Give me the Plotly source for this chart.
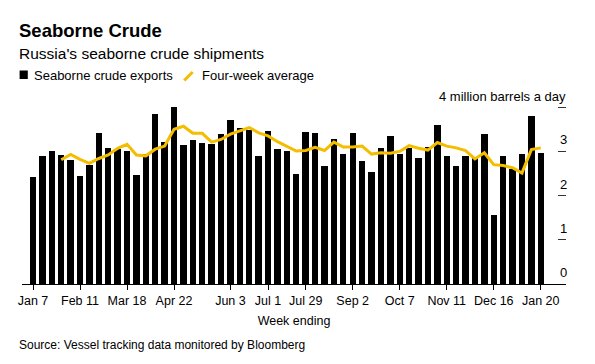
import plotly.graph_objects as go
import pandas as pd

# ---------------- data ----------------
weeks = pd.date_range("2018-01-07", periods=55, freq="7D")

exports = [2.41, 2.90, 3.02, 2.93, 2.81, 2.44, 2.70, 3.41, 3.07, 3.05,
           3.00, 2.47, 2.94, 3.84, 3.21, 4.00, 3.14, 3.25, 3.19, 3.17,
           3.39, 3.70, 3.54, 3.48, 2.90, 3.47, 3.06, 3.00, 2.50, 3.43,
           3.41, 2.66, 3.29, 2.94, 3.41, 2.78, 2.54, 3.08, 3.35, 2.94,
           3.08, 2.84, 3.11, 3.60, 2.89, 2.66, 2.89, 2.84, 3.39, 1.55,
           2.89, 2.60, 2.94, 3.80, 2.97]

four_week_avg = [None, None, None,
                 2.81, 2.93, 2.82, 2.73, 2.84, 2.92, 3.07, 3.16, 2.92, 2.90,
                 3.05, 3.12, 3.50, 3.57, 3.41, 3.41, 3.21, 3.27, 3.39, 3.47,
                 3.54, 3.42, 3.35, 3.22, 3.11, 3.01, 3.02, 3.09, 3.02, 3.21,
                 3.10, 3.10, 3.12, 2.94, 2.97, 2.96, 3.00, 3.13, 3.07, 3.03,
                 3.20, 3.12, 3.08, 3.02, 2.83, 2.97, 2.70, 2.68, 2.63, 2.51,
                 3.04, 3.08]

tick_dates = ["2018-01-07", "2018-02-11", "2018-03-18", "2018-04-22",
              "2018-06-03", "2018-07-01", "2018-07-29", "2018-09-02",
              "2018-10-07", "2018-11-11", "2018-12-16", "2019-01-20"]
tick_labels = ["Jan 7", "Feb 11", "Mar 18", "Apr 22", "Jun 3", "Jul 1",
               "Jul 29", "Sep 2", "Oct 7", "Nov 11", "Dec 16", "Jan 20"]

y_tick_vals = [0, 1, 2, 3, 4]
y_tick_labels = ["0", "1", "2", "3"]
unit_label = "4 million barrels a day"

title = "Seaborne Crude"
subtitle = "Russia's seaborne crude shipments"
legend_names = ["Seaborne crude exports", "Four-week average"]
x_title = "Week ending"
source = "Source: Vessel tracking data monitored by Bloomberg"

# ---------------- styling ----------------
FONT = "Liberation Sans, Arial, sans-serif"
YELLOW = "#F5BD00"
W, H = 595, 364
L, R, T, B = 21.7, 566.0, 105.0, 284.0


def px(x):
    return (x - L) / (R - L)


def py(y):
    return (B - y) / (B - T)


fig = go.Figure()
fig.add_trace(go.Bar(
    x=weeks, y=exports, name=legend_names[0],
    marker=dict(color="#000000", line=dict(width=0)),
    width=0.68 * 7 * 86400000,
))
fig.add_trace(go.Scatter(
    x=weeks, y=four_week_avg, name=legend_names[1], mode="lines",
    line=dict(color=YELLOW, width=3), connectgaps=False,
))

annotations = [
    dict(text="<b>%s</b>" % title, x=px(16.5), y=py(30.5), xanchor="left",
         yanchor="middle", font=dict(size=18.5, color="#000")),
    dict(text=subtitle, x=px(16.5), y=py(53.5), xanchor="left",
         yanchor="middle", font=dict(size=15.5, color="#000")),
    dict(text=legend_names[0], x=px(32), y=py(75.5), xanchor="left",
         yanchor="middle", font=dict(size=13, color="#000")),
    dict(text=legend_names[1], x=px(199.5), y=py(75.5), xanchor="left",
         yanchor="middle", font=dict(size=13, color="#000")),
    dict(text=unit_label, x=px(568), y=py(96.5), xanchor="right",
         yanchor="middle", font=dict(size=13, color="#000")),
    dict(text=source, x=px(16.5), y=py(344.5), xanchor="left",
         yanchor="middle", font=dict(size=12, color="#000")),
]
for v, lab in zip(y_tick_vals, y_tick_labels):
    annotations.append(dict(text=lab, x=px(563.5), xref="paper", y=v, yref="y",
                            yshift=11.5, xanchor="center", yanchor="middle",
                            font=dict(size=13, color="#000")))
for a in annotations:
    a.setdefault("xref", "paper")
    a.setdefault("yref", "paper")
    a["showarrow"] = False

shapes = [
    dict(type="rect", xref="paper", yref="paper",
         x0=px(19.3), x1=px(27.5), y0=py(79), y1=py(70.5),
         fillcolor="#000", line=dict(width=0)),
    dict(type="line", xref="paper", yref="paper",
         x0=px(184), y0=py(80.5), x1=px(192.5), y1=py(72),
         line=dict(color=YELLOW, width=3)),
]

fig.update_layout(
    width=W, height=H, autosize=False,
    margin=dict(l=L, r=W - R, t=T, b=H - B, pad=0),
    paper_bgcolor="#ffffff", plot_bgcolor="#ffffff",
    font=dict(family=FONT, color="#000"),
    showlegend=False, bargap=0,
    annotations=annotations, shapes=shapes,
    xaxis=dict(
        type="date",
        range=["2017-12-29 19:30", "2019-02-07 19:00"],
        tickmode="array", tickvals=tick_dates, ticktext=tick_labels,
        ticks="outside", ticklen=5, tickwidth=1, tickcolor="#000",
        showline=True, linecolor="#000", linewidth=1,
        showgrid=False, zeroline=False,
        tickfont=dict(size=12.5, color="#000"),
        title=dict(text=x_title, font=dict(size=12.5, color="#000"), standoff=9),
    ),
    yaxis=dict(
        range=[0, 4.05], side="right",
        tickmode="array", tickvals=y_tick_vals,
        ticks="inside", ticklen=8, tickwidth=1, tickcolor="#333",
        showticklabels=False, showgrid=False, zeroline=False, showline=False,
    ),
)

fig.write_html(
    "out.html",
    config={"displayModeBar": False, "staticPlot": True},
    post_script="document.body.style.margin='0';document.body.style.padding='0';",
)
